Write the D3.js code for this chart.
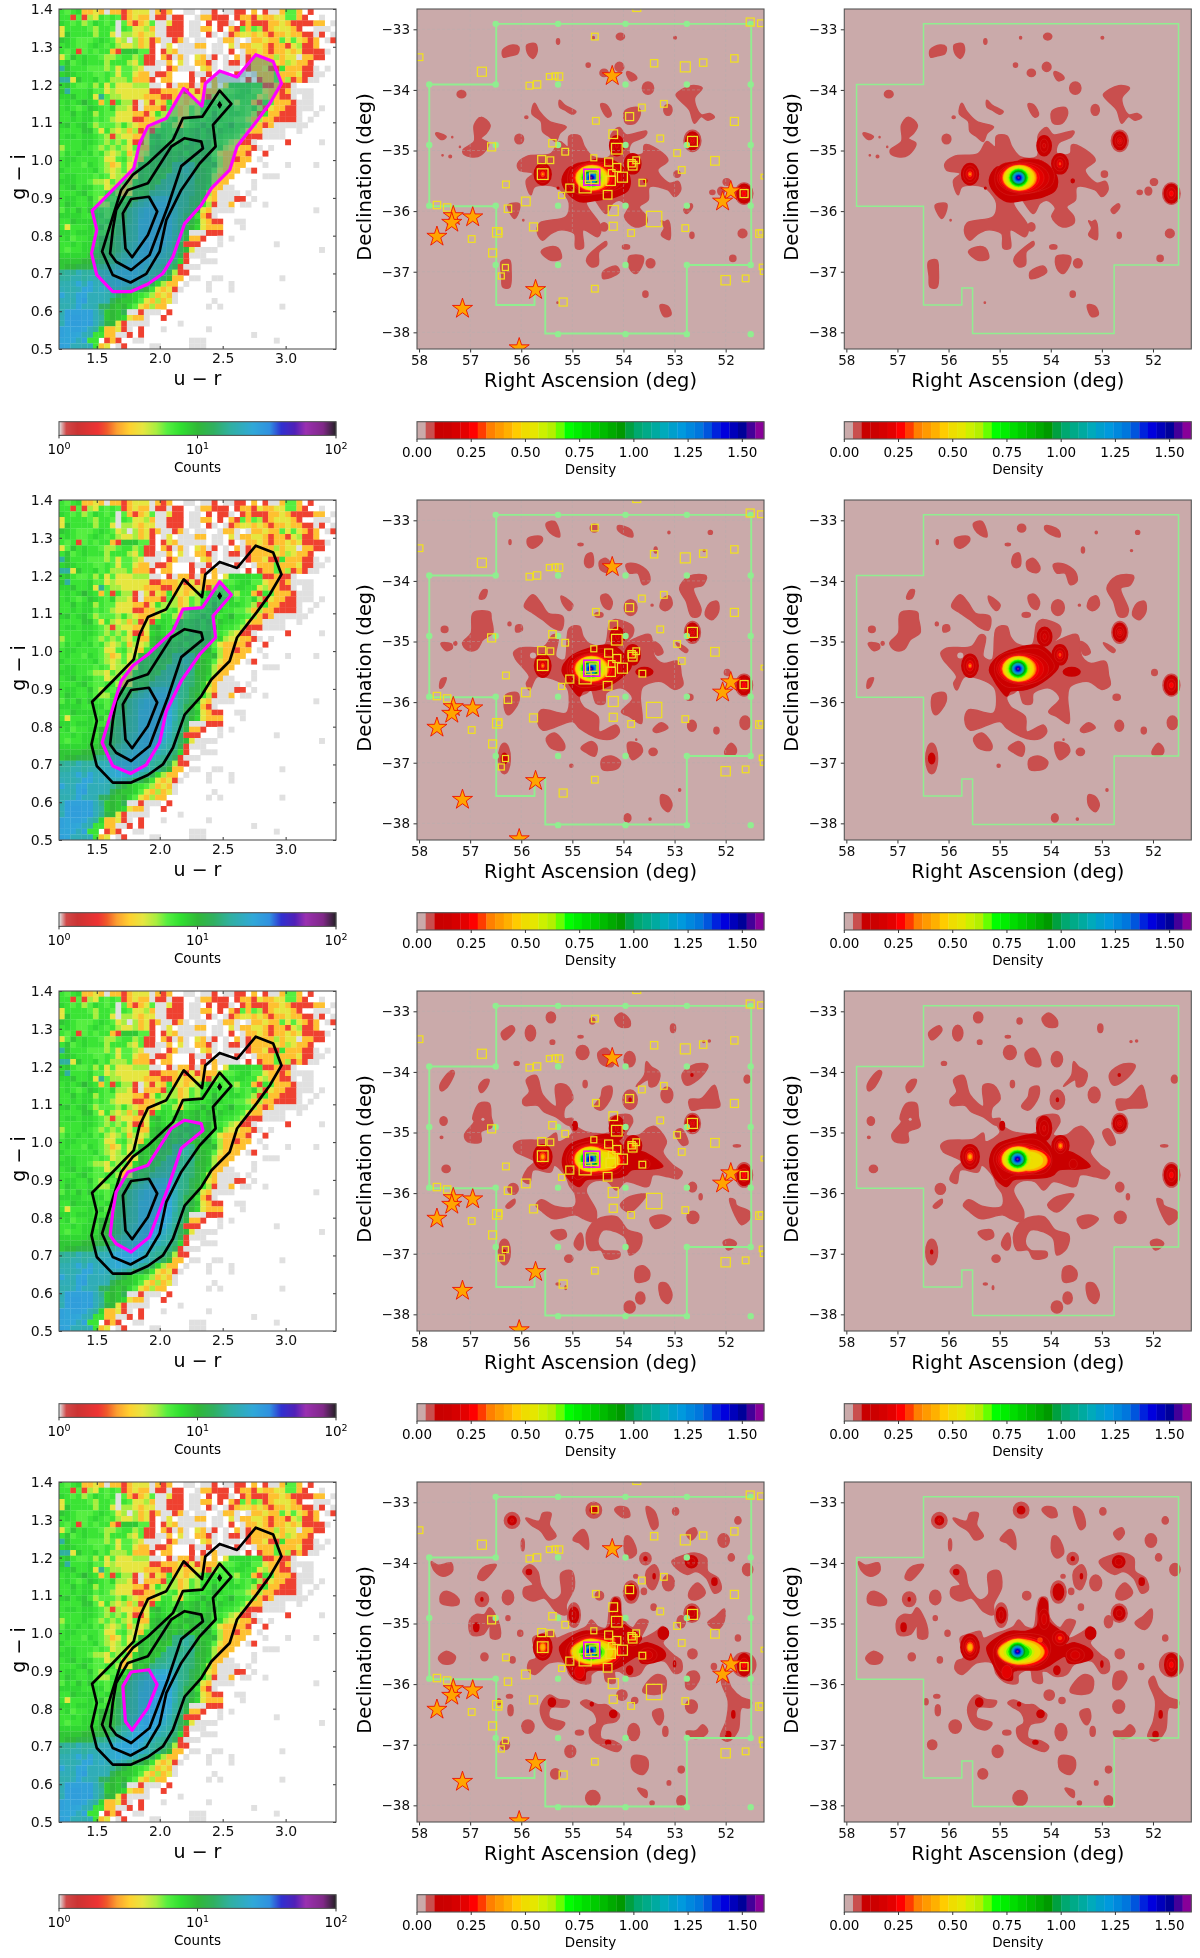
<!DOCTYPE html>
<html>
<head>
<meta charset="utf-8">
<script src="https://cdn.jsdelivr.net/npm/d3@7"></script>
<style>
  body { margin: 0; background: #fff; }
  svg { display: block; font-family: "DejaVu Sans", sans-serif; filter: blur(0.35px); }
</style>
</head>
<body>
<div id="chart"></div>
<script>
// colour-colour histogram, counts per bin written base 36, top row = g-i 1.4
const hessRows = [
"7678334313 3234441323 0011011201 1220302113 663020000",
"7726254767 6234331221 2200133222 0233243344 663200100",
"8767568767 1632346114 2201102022 1023222334 322223301",
"4777765776 1764453112 2201133020 3263652344 432001110",
"4977775774 1554344112 2201102101 2344343233 433221201",
"9876667876 4515342311 2310110013 3101334336 464323012",
"7876678767 5445342014 0111330110 4133443233 245223000",
"7672676773 2999662024 3111110110 2013343233 434222210",
"4697877655 6775622032 1310431201 0312333353 441332200",
"7967877757 7754622113 0410332101 2212333343 543320000",
"h977766656 4665411102 3111043101 1102334227 333221010",
"8987776676 4664331223 0002112011 0210133363 334221100",
"hh49778675 5563332033 0002021311 1102023363 523211000",
"8976675746 4445551102 1332130304 8888772232 210000000",
"9h77786645 4444442233 3424233356 6788664332 311110000",
"8897784g65 5444433322 3433432567 7887745332 210110000",
"7878a87362 7552142437 3434579776 6577327633 321110000",
"7876798768 5542133326 5346577877 8676852433 221110100",
"7797885766 4443324755 5346587a77 8876527332 221001000",
"7787886765 4442233556 7468878a87 7665353322 221010000",
"8978975666 5754333477 53678a8978 a776532311 111100000",
"7777996475 4535242787 6a89a8a798 8764331111 001000000",
"7887887652 5443349a87 9a89a89a87 7652221111 000000000",
"7777887656 5642248987 6a8ba9a776 5422100000 200000100",
"5777876565 6546339a9a 89aa9ba785 4433210100 000000000",
"6878786754 5635459aba 9a8aba9643 3332002000 000000000",
"7887777644 6754379aba 9ba9aba753 3233010000 000000000",
"7877687653 4645a9a9ba ffhga99a53 3330001000 100001000",
"8777778654 5647a9a9a9 fghfaa9643 3301200000 000000000",
"7887776764 5534a99a9g gfggba9533 3000001110 000000000",
"8887765546 5638a9a9fg gggfaa9533 0000100000 000000000",
"7897886645 6359a9affh hgfeba8331 1000100000 000000000",
"7778976677 534a9afghh jhfeb95311 1101000000 000000000",
"7887796576 779afhkmnn kgfcb94311 1220100000 000000000",
"7987786557 89afhkpqqp kgfca75211 3011001000 000000000",
"6879797767 9afhmpqrrq kgeca43111 1000000000 000001000",
"8888778867 9bfhnqrssq kgcb732100 0000000000 000000000",
"7798888787 bdfhpqsssp jfcb943220 0110000000 000000000",
"7477787968 cdghpqsstq jfda843330 0010000000 000000000",
"8878887779 cdghpqssrp hfc1112220 0000000000 000000000",
"7867788aab dfghqrssqn hfb3320010 1000000000 000000000",
"7787887aab dfhjqsssqk gd22200010 0000000010 000000000",
"7677888aab dfhkqsrqmj gda4111100 0000000000 000000100",
"8888899abc fhjnqrqnkh fc21110000 0000000000 000000000",
"9999aabbbe gjlppqnkih e820011100 0000000000 000000000",
"9aabbbffgh knpqqmkhgf d211100000 0000000000 000000000",
"ghgkhhhkkn pqqqnkhgfd 5220000000 0000000000 000000000",
"hhjjhjjkln ppqpnkhfda 3301100110 0000000001 000000000",
"jjkpjqkkmn pnlkhgc853 3010001000 1000000000 000000000",
"kjjkqqkmkk kigdca7434 2100001000 1000000000 000000000",
"qkkqqkkkjg db98765343 1000000000 0000000000 000000000",
"kkjqskkkjc a998643534 1000000100 0000000000 000000000",
"jjkqkkjdda 9a86435330 0000001010 0000000001 000000000",
"jrrrrrkg9a 9c11211102 0000000000 0000000000 000000000",
"krssrrkh9a 9843310020 0000000000 0000000000 000000000",
"jrssrskgba 4211110000 0100000000 0000000000 000000000",
"rqrrqkh833 4210200010 0000001000 0000000000 000000000",
"rqqpkj7733 1120200000 0000000000 0000100000 000000000",
"qqpkq77023 2001100000 0001110000 0000000010 000000000",
"rqkkjk7340 1200001100 0001110000 0000000000 000000000"
];
const hessTicksX = [1.5, 2.0, 2.5, 3.0];
const hessTicksY = [0.5, 0.6, 0.7, 0.8, 0.9, 1.0, 1.1, 1.2, 1.3, 1.4];
const countStops = [1, 1.12, 1.35, 1.9, 2.2, 2.6, 3.2, 4, 5, 6, 7.5, 10, 13, 17, 25, 33, 40, 50, 60, 80, 100];
const countColors = ["#e0e0e0", "#d04848", "#cc3333", "#ee3333", "#f05a2a", "#fca030", "#ffd030", "#e6e640", "#a8ee40", "#55ee40", "#30e030", "#30b838", "#30b060", "#30b0a0", "#30a8d8", "#3090e0", "#3030d0", "#5020b8", "#9a30b0", "#802888", "#202020"];

// contours of the histogram, outer to inner, [u-r, g-i]
const contourA = [[1.463,.866],[1.5,.815],[1.458,.753],[1.5,.696],[1.627,.652],[1.773,.652],[1.906,.672],[2.025,.7],[2.105,.744],[2.198,.832],[2.33,.881],[2.41,.925],[2.556,.974],[2.614,1.036],[2.768,1.102],[2.874,1.15],[2.967,1.203],[2.901,1.261],[2.763,1.279],[2.614,1.22],[2.476,1.236],[2.362,1.203],[2.336,1.143],[2.19,1.19],[2.052,1.111],[1.906,1.09],[1.84,1.044],[1.794,.978],[1.627,.921]];
const contourB = [[1.542,.758],[1.627,.696],[1.768,.676],[1.893,.699],[1.999,.758],[2.052,.841],[2.171,.921],[2.317,.991],[2.444,1.036],[2.423,1.093],[2.569,1.149],[2.476,1.184],[2.338,1.115],[2.184,1.111],[2.105,1.053],[1.906,.991],[1.786,.961],[1.694,.921],[1.627,.85]];
const contourC = [[1.606,.753],[1.654,.731],[1.773,.709],[1.919,.749],[1.985,.807],[2.065,.878],[2.171,.984],[2.343,1.031],[2.33,1.049],[2.198,1.058],[2.092,1.036],[1.906,.939],[1.747,.921],[1.654,.868],[1.627,.815]];
const contourD = [[1.707,.859],[1.728,.766],[1.781,.743],[1.906,.802],[1.98,.864],[1.914,.903],[1.773,.897]];
const contourE = [[2.46,1.146],[2.476,1.155],[2.492,1.146],[2.476,1.137]];
const contours = [contourA, contourB, contourC, contourD];

const raTicks = [58, 57, 56, 55, 54, 53, 52];
const decTicks = [-33, -34, -35, -36, -37, -38];
const densityTicks = [0, 0.25, 0.5, 0.75, 1, 1.25, 1.5];
const densityColors = ["#caaaaa","#c94f4e","#c90000","#cc0000","#d60000","#e40000","#ff0000","#ff3c00","#ff8000","#ff9a00","#ffb000","#ffcc00","#eedd00","#e6e600","#ccf000","#b4f000","#66ff00","#00ff00","#00ee00","#00dd00","#00cc00","#00bb00","#00aa00","#009900","#00a040","#00a870","#00aa88","#00aaa0","#00aabb","#009fcc","#0099dd","#0088dd","#0077dd","#0055dd","#0022dd","#0000dd","#0000bb","#000099","#440099","#880099"];

// survey outline and pointing centres, RA / Dec
const footprint = [[56.49,-32.91],[51.5,-32.91],[51.5,-36.89],[52.76,-36.89],[52.76,-38.02],[55.53,-38.02],[55.53,-37.27],[55.74,-37.27],[55.74,-37.55],[56.49,-37.55],[56.49,-35.92],[57.8,-35.92],[57.8,-33.91],[56.49,-33.91]];
const pointings = [[56.5,-32.91],[55.28,-32.91],[53.96,-32.91],[52.76,-32.91],[51.51,-32.91],[57.8,-33.91],[56.5,-33.91],[55.28,-33.91],[53.96,-33.91],[52.76,-33.91],[51.51,-33.91],[57.8,-34.91],[56.5,-34.91],[55.28,-34.91],[53.96,-34.91],[52.76,-34.91],[51.51,-34.91],[57.8,-35.91],[56.5,-35.91],[55.28,-35.91],[53.96,-35.91],[52.76,-35.91],[51.51,-35.91],[56.5,-36.89],[55.28,-36.89],[53.96,-36.89],[52.76,-36.89],[51.51,-36.89],[55.28,-38.03],[53.96,-38.03],[52.76,-38.03],[51.51,-38.03]];
// known members: RA, Dec, marker weight
const members = [[57.99,-33.46,20],[56.77,-33.7,27],[54.56,-33.12,20],[51.52,-32.88,24],[51.31,-32.9,20],[53.74,-32.64,24],[53.4,-33.56,22],[52.79,-33.62,30],[52.44,-33.55,22],[51.83,-33.48,22],[55.84,-33.93,20],[55.69,-33.91,22],[55.45,-33.78,18],[55.34,-33.77,18],[55.26,-33.78,22],[53.21,-34.23,20],[53.64,-34.29,20],[53.88,-34.44,24],[54.54,-34.51,20],[51.83,-34.52,24],[54.2,-34.73,26],[53.28,-34.8,20],[55.39,-34.88,22],[56.58,-34.94,24],[52.65,-34.85,30],[54.13,-34.97,32],[55.14,-35.02,20],[52.95,-35.04,20],[54.58,-35.12,18],[55.6,-35.15,24],[55.43,-35.16,20],[54.29,-35.19,24],[54.13,-35.28,24],[52.21,-35.17,26],[53.75,-35.16,20],[53.84,-35.21,22],[53.82,-35.25,26],[52.86,-35.32,20],[54.23,-35.37,20],[55.58,-35.39,32],[54.02,-35.44,30],[54.25,-35.5,28],[54.62,-35.44,38],[54.59,-35.43,22],[54.75,-35.6,36],[55.05,-35.62,24],[53.63,-35.53,20],[56.3,-35.56,20],[55.21,-35.74,18],[54.31,-35.73,26],[51.64,-35.71,24],[55.91,-35.84,26],[57.65,-35.9,22],[57.45,-35.94,22],[54.2,-35.99,30],[56.26,-35.96,22],[53.4,-36.13,46],[55.76,-36.26,24],[54.2,-36.25,24],[52.79,-36.28,20],[53.85,-36.36,20],[56.47,-36.35,28],[56.43,-36.34,16],[51.34,-36.37,22],[51.31,-36.35,16],[56.97,-36.46,20],[56.56,-36.69,24],[56.31,-36.93,18],[56.39,-37.07,18],[54.56,-37.28,20],[51.29,-36.92,16],[51.27,-37,16],[52,-37.14,28],[51.61,-37.11,20],[55.18,-37.5,24],[51.26,-35.43,14]];
const brightGalaxy = [54.62, -35.44];
const stars = [[54.22,-33.77],[51.9,-35.67],[52.06,-35.84],[56.95,-36.1],[57.33,-36.08],[57.36,-36.19],[57.65,-36.42],[55.72,-37.3],[57.15,-37.61],[56.04,-38.26]];

// central peak, shared shape: density, RA half-width, Dec half-height, RA shift
const coreRings = [[.18,.51,.26,-.09],[.22,.44,.24,-.06],[.26,.38,.225,-.03],[.3,.345,.215,-.02],[.34,.325,.21,-.02],[.38,.32,.205,-.02],[.42,.31,.2,-.01],[.46,.3,.2,-.01],[.5,.28,.19,-.01],[.54,.26,.175,0],[.58,.235,.165,0],[.62,.21,.155,0],[.66,.19,.15,0],[.7,.175,.14,0],[.78,.165,.13,0],[.86,.15,.12,0],[.94,.137,.11,0],[1.02,.125,.1,0],[1.1,.11,.09,0],[1.18,.1,.08,0],[1.26,.085,.066,0],[1.34,.07,.055,0],[1.42,.05,.04,0],[1.5,.032,.027,0],[1.56,.02,.016,0]];
const coreCenters = [[54.63,-35.45],[54.64,-35.45],[54.65,-35.44],[54.65,-35.46]];

// density maps: [density, ra, dec, rRa, rDec] is an oval, longer rows are outlines ra,dec,ra,dec...
const density1 = [
[.06,56.36,-33.34,56.17,-33.26,56.05,-33.29,56.07,-33.4,56.23,-33.44,56.35,-33.46],
[.06,55.89,-33.26,55.72,-33.24,55.69,-33.37,55.77,-33.48,55.87,-33.4],
[.06,55.28,-33.2,.03,.045],[.06,54.59,-33.14,.02,.02],[.06,54.06,-33.12,.08,.055],[.06,52.99,-33.14,.025,.02],
[.06,54.69,-33.59,.04,.035],[.06,54.38,-33.72,.08,.06],[.06,54.08,-33.62,.085,.075],
[.06,53.93,-33.7,53.78,-33.75,53.74,-33.81,53.85,-33.85,53.92,-33.78],
[.06,53.52,-33.97,.11,.1],[.06,57.17,-34.07,.085,.06],
[.06,52.97,-34.08,52.67,-33.93,52.46,-33.97,52.61,-34.14,52.48,-34.41,52.31,-34.39,52.22,-34.45,52.35,-34.5,52.48,-34.44,52.61,-34.55,52.71,-34.33,52.87,-34.19],
[.06,53.13,-34.33,.08,.09],
[.06,54.44,-34.23,54.33,-34.25,54.24,-34.41,54.31,-34.45,54.4,-34.36],
[.06,53.98,-34.36,53.72,-34.29,53.67,-34.39,53.78,-34.55,53.95,-34.55],
[.06,55.25,-34.17,55.15,-34.25,54.93,-34.36,55,-34.4,55.15,-34.33,55.25,-34.28],
[.06,55.74,-34.22,55.64,-34.36,55.45,-34.52,55.12,-34.61,55.25,-34.72,55.32,-34.85,55.45,-34.77,55.58,-34.69,55.61,-34.52,55.79,-34.39],
[.06,55.9,-34.45,.03,.02],
[.06,56.92,-34.58,56.79,-34.45,56.61,-34.58,56.69,-34.72,56.79,-34.8,56.64,-34.88,56.69,-34.99,56.85,-35.1,57.11,-35.07,57.14,-34.99,56.92,-34.85],
[.06,57.67,-34.71,57.47,-34.77,57.54,-34.82,57.65,-34.76],
[.06,56.04,-34.81,.085,.08],[.06,57.35,-34.78,.01,.01],[.06,57.54,-35.08,.012,.01],[.06,57.39,-35.1,.025,.02],[.06,57.2,-34.94,.01,.01],
[.06,56.07,-35.22,55.9,-35.1,55.42,-35.05,55.25,-34.85,55.09,-34.94,55.06,-34.76,54.86,-34.76,54.76,-34.94,54.6,-35.1,54.27,-35.1,54.24,-34.74,54.08,-34.62,53.95,-34.74,53.55,-34.68,53.59,-34.77,53.85,-34.88,53.88,-35.05,53.62,-35.05,53.59,-34.91,53.42,-34.94,53.13,-35.16,53.33,-35.32,53.1,-35.54,52.93,-35.51,52.88,-35.65,53,-35.76,53.13,-35.65,53.49,-35.6,53.52,-35.82,53.69,-35.93,53.55,-36.09,53.55,-36.2,53.78,-36.26,53.98,-36.09,53.91,-35.95,54.08,-35.82,54.21,-35.87,54.34,-36.04,54.66,-35.71,54.73,-35.87,54.44,-36.26,54.5,-36.42,54.79,-36.31,54.79,-36.61,54.93,-36.61,54.96,-36.37,55.25,-36.31,55.45,-36.39,55.58,-36.48,55.68,-36.37,55.64,-36.2,55.12,-36.09,55.06,-35.87,55.12,-35.76,55.32,-35.6,55.74,-35.6,55.81,-35.73,55.87,-35.65,55.9,-35.49,55.77,-35.38,56.04,-35.32],
[.06,52.95,-35.39,.06,.05],[.06,51.98,-35.52,.07,.055],[.06,52.09,-35.67,.065,.065],[.06,52.26,-35.69,.05,.035],
[.06,52.82,-35.98,52.67,-35.88,52.65,-35.93,52.77,-36.04],
[.06,56.26,-35.9,56.04,-35.88,56.04,-35.98,56.13,-36.12,56.23,-36.01],
[.06,52.66,-36.4,.04,.05],[.06,51.67,-36.37,.085,.07],
[.06,53.26,-36.16,53.2,-36.18,53.13,-36.15,53.08,-36.37,53.1,-36.47,53.26,-36.39,53.2,-36.28],
[.06,51.86,-36.78,.06,.05],[.06,53.47,-36.86,.085,.075],[.06,53.95,-36.59,.07,.035],
[.06,55.61,-36.67,55.45,-36.59,55.28,-36.61,55.22,-36.78,55.42,-36.81],
[.06,54.7,-36.75,54.53,-36.61,54.34,-36.5,54.33,-36.56,54.48,-36.67,54.5,-36.89,54.63,-36.92,54.72,-36.83],
[.06,53.89,-36.75,53.62,-36.75,53.62,-36.86,53.76,-37.03,53.88,-36.94],
[.06,54.4,-37,54.14,-36.91,54.08,-37,54.31,-37.11,54.4,-37.11],
[.06,56.39,-36.83,56.23,-36.81,56.2,-36.97,56.23,-37.26,56.36,-37.25,56.38,-37.08],
[.06,53.57,-37.37,.05,.05],
[.06,53.28,-37.55,53.13,-37.57,53.07,-37.71,53.2,-37.74,53.26,-37.66],
[.06,55.29,-37.51,.012,.012],[.06,54.38,-36.26,.07,.07],
[.1,55.2,-35.48,55.06,-35.28,54.73,-35.24,54.6,-35.16,54.24,-35.16,54.01,-35.28,53.88,-35.44,53.91,-35.65,54.14,-35.76,54.53,-35.82,54.86,-35.84,55.12,-35.67],
[.14,55.09,-35.4,54.99,-35.24,54.66,-35.17,54.24,-35.15,54.01,-35.26,53.93,-35.4,53.98,-35.57,54.18,-35.66,54.53,-35.72,54.86,-35.73,55.06,-35.6],
[.1,55.58,-35.39,.165,.175],[.14,55.58,-35.39,.13,.14],[.22,55.58,-35.39,.08,.09],[.3,55.58,-35.39,.04,.045],[.38,55.58,-35.39,.015,.015],
[.1,54.13,-34.92,.14,.165],[.14,54.13,-34.92,.08,.11],[.18,54.13,-34.92,.03,.04],
[.1,53.82,-35.22,.16,.165],[.14,53.82,-35.22,.12,.12],[.22,53.82,-35.22,.06,.07],[.3,53.82,-35.22,.02,.025],
[.06,52.65,-34.84,.165,.175],[.1,52.65,-34.84,.13,.145],[.14,52.65,-34.84,.09,.1],[.18,52.65,-34.84,.05,.055],[.24,52.65,-34.84,.025,.025],
[.06,51.64,-35.71,.17,.175],[.1,51.64,-35.71,.14,.155],[.18,51.64,-35.71,.09,.1],[.26,51.64,-35.71,.04,.045],
[.1,53.57,-35.5,.03,.03],[.1,55.28,-35.62,.015,.015],[.06,55.96,-36.15,.012,.012]
];
const density2 = [
[.06,55.51,-33.05,55.35,-33.02,55.25,-33.27,55.38,-33.24,55.48,-33.16],
[.06,54.57,-33.13,.08,.065],
[.06,54.11,-33.09,53.85,-33.16,53.82,-33.27,53.98,-33.24,54.11,-33.16],
[.06,55.87,-33.3,55.61,-33.27,55.59,-33.34,55.77,-33.46,55.87,-33.41],
[.06,56.22,-33.36,.02,.04],[.06,54.84,-33.4,.05,.02],[.06,53.37,-33.49,.03,.05],[.06,53.11,-33.2,.02,.02],[.06,52.3,-33.2,.04,.03],[.06,52.42,-33.5,.02,.015],
[.06,54.72,-33.57,54.62,-33.54,54.6,-33.75,54.69,-33.78,54.76,-33.71],
[.06,54.47,-33.68,54.34,-33.63,54.21,-33.79,54.27,-33.86,54.44,-33.82],
[.06,53.95,-33.73,53.75,-33.72,53.52,-33.85,53.49,-34.01,53.62,-34.06,53.72,-33.87,53.88,-33.87],
[.06,52.9,-34.12,52.71,-33.92,52.38,-33.92,52.45,-34.07,52.63,-34.12,52.48,-34.48,52.54,-34.59,52.67,-34.58,52.77,-34.34],
[.06,52.31,-34.37,52.16,-34.34,52.14,-34.51,52.27,-34.64,52.4,-34.56],
[.06,53.23,-34.29,53.1,-34.25,53.05,-34.4,53.17,-34.49,53.28,-34.44],
[.06,53.44,-34.4,.02,.015],[.06,53.86,-34.44,.125,.13],
[.06,54.44,-34.25,54.33,-34.22,54.22,-34.34,54.27,-34.47,54.39,-34.42],
[.06,54.48,-34.56,.08,.04],
[.06,55.22,-34.25,55.12,-34.29,54.99,-34.4,55.06,-34.49,55.19,-34.37],
[.06,55.77,-34.23,55.61,-34.37,55.48,-34.53,55.19,-34.59,55.22,-34.81,55.38,-34.77,55.58,-34.64,55.77,-34.53,55.94,-34.42],
[.06,56.75,-34.15,56.67,-34.15,56.72,-34.29,56.82,-34.29],
[.06,56.94,-34.53,56.61,-34.52,56.59,-34.62,56.56,-34.86,56.75,-34.97,56.87,-35.13,57.05,-35.14,57.15,-35.03,56.98,-34.86],
[.06,57.5,-34.8,.065,.05],
[.06,57.57,-35.03,57.37,-35.04,57.35,-35.11,57.47,-35.15],
[.06,57.29,-35.03,.03,.03],
[.06,56.1,-34.74,56,-34.73,55.98,-34.81,56.1,-34.84],[.06,56.23,-34.71,.03,.03],
[.06,57.57,-35.63,57.47,-35.6,57.54,-35.75,57.59,-35.77],
[.06,56.15,-35.19,56.04,-35.11,55.55,-35.08,55.38,-34.89,55.28,-34.92,55.32,-35.25,55.15,-35.3,55.06,-34.78,54.86,-34.75,54.79,-34.92,54.66,-35.04,54.37,-35.06,54.27,-34.7,54.18,-34.64,53.82,-34.75,53.82,-34.89,53.98,-35.03,53.69,-34.92,53.48,-34.89,53.39,-35.25,53.23,-35.36,52.93,-35.33,52.87,-35.55,52.84,-35.72,53,-35.79,53.26,-35.66,53.62,-35.74,53.67,-35.91,53.65,-36.35,53.88,-36.24,54.04,-36.16,53.82,-35.94,54.01,-35.77,54.34,-35.85,54.37,-36.02,54.53,-36.02,54.63,-35.8,54.73,-35.85,54.86,-35.91,54.79,-36.07,54.5,-36.24,54.47,-36.49,54.14,-36.38,54.08,-36.49,54.21,-36.6,54.47,-36.6,54.86,-36.43,54.99,-36.32,55.58,-36.46,55.68,-36.3,55.61,-36.13,55.12,-36.18,55.06,-35.91,55.12,-35.74,55.68,-35.58,55.84,-35.8,55.9,-35.69,55.84,-35.58,56.1,-35.3],
[.06,53.42,-35,53.29,-35.06,53.23,-35.19,53.35,-35.22],
[.06,52.97,-35.02,52.74,-35.14,52.77,-35.18,52.9,-35.11],
[.06,51.97,-35.51,.055,.05],[.06,52.71,-35.92,.07,.05],[.06,52.66,-36.39,.085,.09],[.06,52.18,-36.47,.05,.055],[.06,51.62,-36.34,.1,.11],
[.06,52.02,-36.82,51.89,-36.68,51.79,-36.78,51.83,-36.87,52,-36.87],
[.06,53.42,-36.46,53.26,-36.34,53.13,-36.42,53.36,-36.5],
[.06,53.42,-36.82,.08,.06],
[.06,53.91,-36.67,53.68,-36.7,53.63,-36.82,53.82,-36.95,53.89,-36.87],
[.06,54.42,-36.94,54.24,-36.89,54.06,-36.98,54.11,-37.09,54.41,-37.11],
[.06,54.83,-36.76,54.63,-36.65,54.52,-36.73,54.56,-36.89,54.73,-36.83],
[.06,55.51,-36.6,55.35,-36.51,55.15,-36.71,55.18,-36.79,55.41,-36.76],
[.06,56.3,-35.88,56.07,-35.85,56.05,-35.99,56.25,-36.21,56.32,-36.13],
[.06,55.02,-37.05,.03,.025],
[.06,53.26,-37.53,53.13,-37.56,53.05,-37.7,53.13,-37.81,53.26,-37.7],
[.06,53.92,-37.91,.065,.07],[.06,52.9,-37.45,.02,.02],[.06,53.48,-37.93,.02,.02],[.06,53.75,-36.62,.01,.01],
[.06,56.33,-36.93,.115,.25],[.1,56.33,-36.93,.06,.085],
[.1,55.2,-35.47,55.06,-35.27,54.66,-35.11,54.21,-35.07,53.95,-35.25,53.85,-35.41,54.08,-35.62,54.47,-35.79,54.79,-35.82,54.86,-35.9,54.99,-35.79,55.12,-35.62],
[.14,55.1,-35.4,55,-35.24,54.66,-35.15,54.24,-35.12,54.01,-35.27,53.93,-35.42,54.08,-35.57,54.47,-35.72,54.86,-35.75,55.06,-35.6],
[.1,53.59,-35.5,.165,.07],
[.1,55.58,-35.4,.16,.19],[.14,55.58,-35.4,.12,.15],[.22,55.58,-35.4,.07,.09],[.3,55.58,-35.4,.035,.04],[.38,55.58,-35.4,.015,.015],
[.1,54.12,-34.92,.14,.155],[.14,54.12,-34.92,.09,.11],[.18,54.12,-34.92,.035,.05],
[.1,53.82,-35.22,.15,.165],[.14,53.82,-35.22,.11,.12],[.22,53.82,-35.22,.06,.07],[.3,53.82,-35.22,.025,.03],
[.06,52.65,-34.85,.155,.18],[.1,52.65,-34.85,.125,.15],[.14,52.65,-34.85,.085,.1],[.18,52.65,-34.85,.05,.055],[.24,52.65,-34.85,.025,.025],
[.06,51.64,-35.72,.165,.18],[.1,51.64,-35.72,.135,.155],[.18,51.64,-35.72,.085,.1],[.26,51.64,-35.72,.04,.045]
];
const density3 = [
[.06,55.42,-33.1,.09,.09],[.06,54.61,-33.16,.05,.05],
[.06,54.17,-33.12,54.04,-33.03,53.88,-33.14,53.88,-33.25,54.08,-33.25],
[.06,53.03,-33.28,.05,.07],
[.06,56.39,-33.36,56.18,-33.24,56.13,-33.31,56.33,-33.47],
[.06,55.82,-33.36,.1,.13],[.06,55.39,-33.51,.045,.035],[.06,54.84,-33.42,.05,.02],[.06,52.43,-33.5,.02,.015],[.06,52.32,-33.49,.02,.015],
[.06,54.8,-33.68,.125,.115],
[.06,54.5,-33.69,54.34,-33.61,54.2,-33.8,54.22,-33.91,54.44,-33.86],
[.06,53.88,-33.79,.11,.125],[.06,56.09,-33.86,.05,.03],
[.06,53.55,-33.83,53.46,-33.91,53.29,-34.02,53.36,-34.22,53.49,-34.24,53.52,-34.13,53.75,-34.24,53.59,-34.05],
[.06,52.84,-34.02,52.58,-33.87,52.35,-33.89,52.48,-34.08,52.75,-34.22,52.83,-34.16],
[.1,52.66,-34.05,.02,.02],[.06,51.58,-34.12,.06,.065],
[.06,57.59,-34.22,57.37,-33.98,57.31,-34,57.47,-34.27,57.57,-34.31],
[.06,56.83,-34.24,56.72,-34.13,56.63,-34.13,56.69,-34.27,56.79,-34.34],
[.06,54.75,-34.2,.04,.06],
[.06,54.4,-34.27,54.24,-34.24,54.24,-34.41,54.44,-34.63,54.57,-34.57,54.44,-34.41],
[.06,53.87,-34.46,.14,.16],[.1,53.87,-34.46,.02,.03],[.06,53.15,-34.38,.115,.13],
[.06,55.9,-34.13,55.71,-34.06,55.58,-34.38,55.32,-34.57,55.32,-34.22,55.12,-34.22,54.99,-34.44,55.15,-34.6,55.15,-34.77,54.99,-34.77,55.06,-34.88,55.32,-34.74,55.55,-34.66,55.68,-34.55,55.94,-34.55,55.97,-34.46,55.84,-34.33],
[.06,56.95,-34.77,56.82,-34.52,56.63,-34.52,56.59,-34.74,56.56,-34.9,56.79,-34.99,56.79,-35.15,57.05,-35.15,57.11,-35.04,56.92,-34.82],
[.06,57.52,-34.81,.07,.07],[.06,57.56,-35.08,.025,.02],[.06,57.47,-35.6,.08,.06],
[.06,52.71,-34.46,52.48,-34.44,52.22,-34.22,52.14,-34.44,52.12,-34.57,52.48,-34.6,52.67,-34.63],
[.06,52.65,-34.85,.155,.165],[.1,52.65,-34.85,.125,.135],[.14,52.65,-34.85,.085,.095],[.18,52.65,-34.85,.05,.05],[.24,52.65,-34.85,.025,.025],
[.06,56.15,-35.21,56.04,-35.14,55.51,-35.11,55.32,-35.01,55.28,-35.15,55.12,-35.1,54.99,-34.99,55.09,-34.82,54.73,-34.99,54.27,-34.99,54.27,-34.77,53.88,-34.71,53.82,-34.82,53.95,-35.04,53.69,-35.04,53.52,-34.93,53.39,-34.9,53.16,-35.15,53.23,-35.32,53.03,-35.54,52.85,-35.65,52.93,-35.76,53.13,-35.73,53.42,-35.7,53.52,-35.89,53.95,-35.81,54.14,-35.95,54.31,-35.81,54.6,-35.81,54.73,-35.95,54.53,-36.31,54.57,-36.47,54.79,-36.42,54.93,-36.36,55.38,-36.42,55.58,-36.31,55.71,-36.2,55.61,-36.11,55.32,-36.22,54.96,-36.22,54.94,-36.03,55.06,-35.87,55.12,-35.73,55.35,-35.54,55.42,-35.65,55.77,-35.62,55.84,-35.84,55.97,-35.78,55.87,-35.59,55.74,-35.48,55.9,-35.4,56.1,-35.32],
[.06,52.98,-34.99,52.87,-34.94,52.74,-35.18,52.84,-35.21],
[.06,51.78,-35.22,.07,.02],[.06,52.65,-35.9,.08,.08],[.06,52.49,-36.06,.03,.05],[.06,52.64,-36.4,.115,.1],[.06,56.16,-35.93,.1,.09],
[.06,56.3,-36.22,56.13,-36.1,56.13,-36.17,56.26,-36.25],
[.06,54.06,-36.2,53.88,-36.06,53.55,-36.02,53.62,-36.12,53.88,-36.31],
[.06,53.48,-36.42,53.26,-36.36,53.07,-36.42,53.23,-36.55,53.39,-36.58],
[.06,51.92,-36.09,51.82,-36.12,51.79,-36.2,51.53,-36.31,51.53,-36.42,51.69,-36.52,51.82,-36.36],
[.06,52.05,-36.81,51.92,-36.76,51.79,-36.83,51.95,-36.94],
[.06,55.42,-36.65,55.16,-36.61,55.12,-36.72,55.28,-36.77],
[.06,54.93,-36.75,54.83,-36.66,54.79,-36.86,54.86,-36.94,54.96,-36.86],
[.06,54.7,-36.61,54.53,-36.44,54.14,-36.39,53.91,-36.61,53.65,-36.69,53.69,-36.91,53.88,-37.02,53.95,-36.75,54.14,-36.64,54.4,-36.61,54.5,-36.8,54.4,-36.94,54.08,-36.97,54.08,-37.05,54.34,-37.08,54.44,-36.94,54.66,-36.94,54.73,-36.75],
[.06,55.07,-37.08,.08,.06],
[.06,53.75,-37.24,53.62,-37.2,53.49,-37.3,53.52,-37.43,53.75,-37.46],
[.06,53.29,-37.49,53.16,-37.49,53.05,-37.68,53.13,-37.82,53.26,-37.74],
[.06,53.67,-37.73,.09,.1],[.06,53.88,-37.88,.11,.1],[.06,55.28,-37.5,.04,.015],[.06,55.13,-37.56,.015,.03],
[.06,56.33,-36.97,.115,.21],[.1,56.33,-36.97,.02,.03],
[.1,54.95,-34.89,.045,.07],
[.1,54.13,-34.93,.145,.2],[.14,54.13,-34.93,.09,.13],[.18,54.13,-34.93,.03,.05],
[.1,55.19,-35.43,55.06,-35.21,54.73,-35.1,54.27,-35.04,54.01,-35.23,53.95,-35.32,53.62,-35.32,53.23,-35.56,53.42,-35.6,53.85,-35.62,53.95,-35.7,54.08,-35.74,54.47,-35.76,54.73,-35.78,54.86,-35.89,55.02,-35.81,55.15,-35.65],
[.14,55.12,-35.42,55,-35.24,54.66,-35.14,54.27,-35.12,54.03,-35.3,53.98,-35.5,54.1,-35.66,54.47,-35.7,54.75,-35.72,54.9,-35.78,55.05,-35.62],
[.14,53.56,-35.52,.08,.08],
[.26,54.42,-35.46,.42,.2],[.34,54.42,-35.46,.36,.18],[.42,54.42,-35.46,.34,.17],[.5,54.45,-35.46,.3,.15],
[.1,55.58,-35.4,.18,.2],[.14,55.58,-35.4,.14,.16],[.22,55.58,-35.4,.09,.11],[.3,55.58,-35.4,.06,.07],[.38,55.58,-35.4,.035,.04],[.44,55.58,-35.4,.015,.015],
[.1,53.81,-35.22,.165,.165],[.14,53.81,-35.22,.12,.13],[.22,53.81,-35.22,.08,.08],[.3,53.81,-35.22,.05,.055],[.38,53.81,-35.22,.025,.03],
[.06,51.64,-35.7,.165,.2],[.1,51.64,-35.7,.135,.17],[.18,51.64,-35.7,.09,.11],[.26,51.64,-35.7,.04,.05]
];
const density4 = [
[.06,56.18,-33.3,.15,.13],[.1,56.18,-33.3,.08,.07],[.18,56.18,-33.3,.03,.03],
[.06,55.91,-33.26,55.65,-33.31,55.58,-33.18,55.42,-33.18,55.45,-33.37,55.32,-33.56,55.48,-33.62,55.61,-33.48,55.81,-33.37],
[.06,54.58,-33.13,.15,.13],[.1,54.58,-33.13,.07,.06],
[.06,54.08,-33.07,53.92,-33.1,53.88,-33.23,54.01,-33.25,54.17,-33.12],
[.06,53.55,-33.07,53.39,-33.15,53.33,-33.4,53.42,-33.45,53.52,-33.26],
[.06,52.98,-33.15,.06,.06],[.06,51.76,-33.3,.06,.06],
[.06,52.77,-33.51,52.61,-33.42,52.56,-33.51,52.67,-33.62],
[.06,52.04,-33.63,.11,.11],[.06,51.89,-33.91,.06,.06],
[.06,54.99,-33.62,54.79,-33.45,54.7,-33.56,54.7,-33.78,54.86,-33.67],
[.06,55.97,-33.7,.03,.1],
[.06,53.95,-33.56,53.85,-33.59,53.75,-33.84,53.88,-33.92,53.98,-33.81],
[.06,53.57,-33.93,.11,.1],[.1,53.57,-33.93,.03,.03],
[.06,53.05,-33.97,52.77,-33.86,52.58,-33.84,52.38,-33.92,52.35,-34.14,52.15,-34.25,52.09,-34.44,52.22,-34.5,52.38,-34.25,52.58,-34.14,52.75,-34.19,53,-34.06],
[.1,52.67,-33.98,.12,.1],[.14,52.67,-33.98,.07,.06],[.1,52.22,-34.31,.05,.06],
[.06,51.57,-34.11,.1,.1],
[.06,57.76,-33.98,57.63,-34.04,57.37,-34,57.35,-34.14,57.53,-34.22,57.69,-34.14],
[.06,56.85,-34.25,56.75,-34.08,56.49,-34.03,56.59,-34.17,56.75,-34.29],
[.06,53.55,-34.14,53.39,-34.03,53.3,-34.19,53.42,-34.44,53.52,-34.39],[.1,53.4,-34.22,.02,.04],
[.06,53.12,-34.33,.115,.13],[.06,53.76,-34.22,.04,.03],
[.06,55.97,-34.14,55.84,-34.03,55.68,-34.14,55.61,-34.39,55.38,-34.61,55.22,-34.52,55.22,-34.17,55.02,-34.13,54.96,-34.39,55.12,-34.69,55.12,-34.85,55.32,-34.8,55.55,-34.58,55.77,-34.63,55.95,-34.55,55.94,-34.41,55.77,-34.36],
[.1,55.85,-34.15,.05,.04],
[.06,53.85,-34.48,.15,.18],[.1,53.85,-34.48,.1,.13],[.06,53.6,-34.47,.05,.05],[.06,54.47,-34.54,.08,.07],[.06,56.26,-34.57,.11,.12],
[.06,56.77,-34.6,.13,.12],[.1,56.77,-34.6,.02,.03],
[.06,57.57,-34.52,57.44,-34.47,57.22,-34.6,57.24,-34.69,57.57,-34.66],
[.06,52.71,-34.47,52.55,-34.33,52.4,-34.5,52.58,-34.61,52.71,-34.58],
[.06,53.41,-34.73,.05,.05],
[.06,54.97,-34.86,.125,.2],[.1,54.97,-34.86,.09,.13],[.14,54.97,-34.86,.04,.07],
[.06,52.66,-34.83,.155,.15],[.1,52.66,-34.83,.11,.11],[.14,52.66,-34.83,.06,.06],
[.06,52.87,-34.97,.08,.1],
[.06,52.35,-34.99,52.19,-34.88,52.03,-34.76,52.03,-34.96,52.16,-35.1],
[.06,57.01,-34.95,56.88,-34.85,56.72,-34.85,56.62,-34.74,56.43,-35.02,56.43,-35.24,56.59,-35.24,56.62,-35.04,56.75,-35.18,56.98,-35.18],
[.1,56.88,-35.06,.05,.07],
[.06,56.26,-34.91,.04,.04],[.06,56.02,-35.16,.05,.05],
[.06,57.62,-35.57,57.48,-35.46,57.29,-35.54,57.34,-35.65,57.54,-35.66],
[.06,56.72,-35.55,.07,.065],[.06,56.17,-35.6,.05,.05],[.06,51.76,-35.24,.05,.05],[.06,52.65,-35.5,.09,.08],[.06,52.23,-35.71,.05,.05],
[.06,55.77,-35.24,55.58,-35.17,55.38,-35.13,55.32,-35.24,55.12,-35.18,54.73,-35.05,54.63,-34.94,54.5,-35.05,54.34,-35.07,54.27,-34.74,54.21,-34.58,54.08,-34.58,54.02,-34.91,53.82,-35.07,53.69,-34.94,53.52,-34.96,53.65,-35.24,53.36,-35.13,53.23,-35.05,53.13,-35.18,53.23,-35.32,53.03,-35.51,52.87,-35.62,52.87,-35.79,53,-35.82,53.2,-35.62,53.55,-35.68,53.69,-35.84,53.91,-35.87,54.08,-35.79,54.17,-35.79,54.17,-35.98,54.34,-35.95,54.4,-35.76,54.63,-35.84,54.65,-35.98,54.86,-35.98,55.06,-35.84,55.15,-35.65,55.45,-35.65,55.74,-35.84,55.87,-35.76,55.84,-35.62,55.71,-35.57,55.74,-35.4],
[.06,52.74,-35.82,52.58,-35.79,52.51,-35.9,52.67,-36.09,52.77,-36.06],
[.06,53.46,-35.9,53.33,-35.84,53.18,-35.9,53.2,-36.12,53.39,-36.17,53.62,-36.12],
[.06,54.03,-36.18,.1,.085],[.06,53.78,-36.27,.06,.05],[.06,52.67,-36.37,.115,.11],
[.06,53.42,-36.45,53.26,-36.41,53.22,-36.56,53.29,-36.67,53.39,-36.59],
[.06,53.18,-36.78,.05,.08],[.06,53.8,-36.79,.115,.14],
[.06,54.84,-36.31,54.73,-36.26,54.5,-36.34,54.34,-36.34,54.21,-36.42,54.08,-36.5,54.14,-36.61,54.4,-36.67,54.44,-36.89,54.18,-36.94,54.04,-37.03,54.11,-37.11,54.4,-37.03,54.63,-36.89,54.66,-36.72,54.53,-36.64,54.57,-36.48,54.76,-36.37],
[.1,54.2,-36.49,.07,.06],[.1,54.62,-36.33,.03,.03],[.1,54.3,-36.96,.05,.03],
[.06,55.61,-36.34,55.45,-36.18,55.28,-36.25,55.06,-36.28,55.12,-36.37,55.42,-36.39,55.45,-36.55,55.15,-36.64,55.25,-36.75,55.48,-36.7,55.61,-36.52],
[.1,55.4,-36.3,.07,.07],
[.06,55.87,-36.7,.12,.11],[.06,56.21,-36.43,.05,.09],[.06,56.23,-36.2,.06,.03],[.06,56.44,-36.29,.04,.05],[.06,54.86,-36.8,.08,.04],
[.06,52.77,-36.78,52.58,-36.77,52.45,-36.67,52.35,-36.78,52.51,-36.89,52.74,-36.86],
[.06,52.08,-35.95,51.99,-35.87,51.89,-36.06,51.69,-36.22,51.5,-36.28,51.53,-36.39,51.69,-36.39,51.76,-36.77,51.95,-36.94,52.1,-36.87,51.99,-36.61,51.95,-36.28],
[.1,51.95,-36.83,.05,.05],[.1,51.85,-36.5,.03,.06],
[.06,56.32,-37,.09,.08],[.06,55.04,-37.11,.105,.1],[.06,55.33,-37.48,.095,.085],
[.06,53.82,-37.19,53.55,-37.22,53.52,-37.38,53.62,-37.49,53.82,-37.41],
[.06,52.87,-37.41,.06,.055],[.06,53.11,-37.63,.035,.035],[.06,54.6,-37.88,.14,.125],[.06,52.87,-37.93,.085,.09],
[.06,53.72,-37.72,53.55,-37.76,53.55,-37.87,53.62,-37.84],[.06,53.44,-37.96,.04,.03],
[.1,55.25,-35.4,55.06,-35.24,54.79,-35.13,54.5,-35.13,54.27,-35.05,54.24,-34.72,54.17,-34.58,54.08,-34.63,54.04,-34.96,53.85,-35.1,53.65,-35.24,53.72,-35.35,53.52,-35.32,53.2,-35.46,53.2,-35.57,53.65,-35.65,53.72,-35.54,54.01,-35.68,54.21,-35.76,54.73,-35.79,54.76,-35.93,54.96,-35.9,55.12,-35.68],
[.14,55.12,-35.43,54.99,-35.27,54.73,-35.18,54.34,-35.17,54.08,-35.24,54,-35.4,54.08,-35.6,54.27,-35.71,54.73,-35.73,54.86,-35.87,54.99,-35.79,55.09,-35.65],
[.1,53.88,-35.77,.06,.07],[.1,53.22,-35.16,.1,.1],[.1,53,-35.67,.02,.05],
[.14,54.13,-34.93,.11,.17],[.18,54.13,-34.93,.05,.09],
[.14,53.52,-35.52,.18,.12],[.18,53.52,-35.52,.09,.07],
[.2,54.86,-35.8,.1,.11],
[.1,55.58,-35.39,.18,.21],[.14,55.58,-35.39,.14,.17],[.22,55.58,-35.39,.1,.12],[.3,55.58,-35.39,.07,.09],[.38,55.58,-35.39,.05,.06],[.44,55.58,-35.39,.03,.035],
[.14,53.82,-35.24,.15,.13],[.22,53.82,-35.24,.09,.08],[.3,53.82,-35.24,.04,.03],
[.26,54.55,-35.47,.5,.23],[.34,54.58,-35.47,.46,.21],[.42,54.58,-35.47,.44,.2],[.5,54.6,-35.47,.4,.18],[.58,54.62,-35.47,.3,.15],[.66,54.62,-35.47,.25,.13],[.78,54.62,-35.47,.2,.11],
[.3,54.21,-35.27,.05,.04],
[.06,51.64,-35.68,.23,.2],[.1,51.64,-35.68,.13,.18],[.18,51.64,-35.68,.09,.11],[.26,51.64,-35.68,.04,.05]
];
const densities = [density1, density2, density3, density4];
// see-through gaps in the base layer: row, ra, dec, rRa, rDec
const densityHoles = [[1,55.77,-35.23,.06,.05],[2,56.75,-34.78,.03,.025]];

const width = 1200, height = 1958, rowStep = 491;
const hessW = 277, mapW = 347, plotH = 340;
const colX = [59, 417, 844.3];

const svg = d3.select('#chart').append('svg').attr('width', width).attr('height', height);
const defs = svg.append('defs');

const xHess = d3.scaleLinear().domain([1.2, 3.4]).range([0, hessW]);
const yHess = d3.scaleLinear().domain([0.5, 1.4]).range([plotH, 0]);
const xRa = d3.scaleLinear().domain([58.04, 51.25]).range([0, mapW]);
const yDec = d3.scaleLinear().domain([-38.275, -32.665]).range([plotH, 0]);
const countColor = d3.scaleLog().domain(countStops).range(countColors).interpolate(d3.interpolateRgb);
const densityColor = d3.scaleQuantize().domain([0, 1.6]).range(densityColors);
const xCount = d3.scaleLog().domain([1, 100]).range([0, hessW]);
const xDensity = d3.scaleLinear().domain([0, 1.6]).range([0, mapW]);
const memberSide = d3.scaleLinear().domain([0, 46]).range([0, 15.3]);

const hessLine = d3.line().x(d => xHess(d[0])).y(d => yHess(d[1]));
const footLine = d3.line().x(d => xRa(d[0])).y(d => yDec(d[1])).curve(d3.curveLinearClosed);
const blobLine = d3.line().x(d => xRa(d[0])).y(d => yDec(d[1])).curve(d3.curveCatmullRomClosed.alpha(0.5));

const du = 2.2 / 49, dg = 0.9 / 60;
const hessCells = [];
hessRows.forEach((line, r) => {
  const row = line.replace(/ /g, '');
  for (let c = 0; c < row.length; c++) {
    const n = parseInt(row[c], 36);
    if (n > 0) hessCells.push({u: 1.2 + c * du, g: 1.4 - r * dg, n: n});
  }
});

function styleAxis(g, size) {
  g.selectAll('text').attr('font-size', size).attr('font-family', '"DejaVu Sans"').attr('fill', '#111');
  g.selectAll('line').attr('stroke', '#333');
  g.select('.domain').remove();
}

function frame(g, w, h) {
  g.append('rect').attr('width', w).attr('height', h)
    .attr('fill', 'none').attr('stroke', '#555').attr('stroke-width', 1.1);
}

function minusFmt(v) { return (v < 0 ? '\u2212' : '') + Math.abs(v); }

function drawHess(g, i) {
  defs.append('clipPath').attr('id', 'clipH' + i).append('rect').attr('width', hessW).attr('height', plotH);
  const body = g.append('g').attr('clip-path', `url(#clipH${i})`);
  body.selectAll('rect.cell').data(hessCells).enter().append('rect')
    .attr('class', 'cell')
    .attr('x', d => xHess(d.u))
    .attr('y', d => yHess(d.g))
    .attr('width', xHess(1.2 + du) - xHess(1.2) + 0.25)
    .attr('height', yHess(1.4 - dg) - yHess(1.4) + 0.25)
    .attr('fill', d => countColor(d.n));

  // shaded area follows the highlighted contour
  body.append('path').attr('d', hessLine(contours[i]) + 'Z')
    .attr('fill', '#3087a0').attr('fill-opacity', 0.42);
  contours.concat([contourE]).forEach((c, k) => {
    if (k === i) return;
    body.append('path').attr('d', hessLine(c) + 'Z').attr('fill', k === 4 ? '#000' : 'none')
      .attr('stroke', '#000').attr('stroke-width', k === 4 ? 1 : 2.7).attr('stroke-linejoin', 'round');
  });
  body.append('path').attr('d', hessLine(contours[i]) + 'Z').attr('fill', 'none')
    .attr('stroke', '#ff00ff').attr('stroke-width', 3.2).attr('stroke-linejoin', 'round');

  g.append('g').attr('transform', `translate(0,${plotH})`)
    .call(d3.axisBottom(xHess).tickValues(hessTicksX).tickSize(-3).tickPadding(4).tickFormat(d3.format('.1f')))
    .call(a => styleAxis(a, 14));
  g.append('g').call(d3.axisTop(xHess).tickValues(hessTicksX).tickSize(-3).tickFormat(''))
    .call(a => { styleAxis(a, 14); a.selectAll('text').remove(); });
  g.append('g').call(d3.axisLeft(yHess).tickValues(hessTicksY).tickSize(-3).tickPadding(6).tickFormat(d3.format('.1f')))
    .call(a => styleAxis(a, 14));
  g.append('g').attr('transform', `translate(${hessW},0)`)
    .call(d3.axisRight(yHess).tickValues(hessTicksY).tickSize(-3).tickFormat(''))
    .call(a => { styleAxis(a, 14); a.selectAll('text').remove(); });
  frame(g, hessW, plotH);

  g.append('text').attr('x', hessW / 2).attr('y', 370).attr('text-anchor', 'middle')
    .attr('font-size', 19).attr('dominant-baseline', 'middle').text('u \u2212 r');
  g.append('text').attr('transform', `translate(-40,${plotH / 2 - 2}) rotate(-90)`)
    .attr('text-anchor', 'middle').attr('dominant-baseline', 'middle').attr('font-size', 19).text('g \u2212 i');

  // colour bar, counts
  const bar = g.append('g').attr('transform', 'translate(0,412.7)');
  const barH = 13.7;
  bar.selectAll('rect').data(d3.range(0, 2, 2 / 277)).enter().append('rect')
    .attr('x', d => xCount(Math.pow(10, d)))
    .attr('width', 1.3).attr('height', barH)
    .attr('fill', d => countColor(Math.pow(10, d)));
  frame(bar, hessW, barH);
  [1, 10, 100].forEach((v, k) => {
    bar.append('line').attr('x1', xCount(v)).attr('x2', xCount(v)).attr('y1', barH).attr('y2', barH + 3).attr('stroke', '#333');
    const t = bar.append('text').attr('x', xCount(v)).attr('y', barH + 18.5).attr('text-anchor', 'middle').attr('font-size', 13.5);
    t.append('tspan').text('10');
    t.append('tspan').attr('dy', -5).attr('font-size', 9.5).text(k);
  });
  bar.append('text').attr('x', hessW / 2).attr('y', barH + 36.5).attr('text-anchor', 'middle').attr('font-size', 13.5).text('Counts');
}

function drawBlob(g, b) {
  const fill = densityColor(b[0]);
  // low bands get a same colour edge, the nested red bands a very faint lighter line
  const low = b[0] < .12, nested = !low && b[0] < .34;
  const edge = low ? fill : (nested ? '#ff9a8a' : fill);
  const edgeW = low ? 1.5 : .35;
  const edgeA = nested ? .35 : 1;
  if (b.length === 5) {
    g.append('ellipse').attr('cx', xRa(b[1])).attr('cy', yDec(b[2]))
      .attr('rx', Math.abs(xRa(b[1] + b[3]) - xRa(b[1]))).attr('ry', Math.abs(yDec(b[2] + b[4]) - yDec(b[2])))
      .attr('fill', fill).attr('stroke', edge).attr('stroke-width', edgeW).attr('stroke-opacity', edgeA);
  } else {
    const pts = d3.range(1, b.length, 2).map(k => [b[k], b[k + 1]]);
    g.append('path').attr('d', blobLine(pts)).attr('fill', fill)
      .attr('stroke', edge).attr('stroke-width', edgeW).attr('stroke-opacity', edgeA);
  }
}

function drawMap(g, i, col) {
  const id = 'clipM' + i + col;
  defs.append('clipPath').attr('id', id).append('rect').attr('width', mapW).attr('height', plotH);
  const body = g.append('g').attr('clip-path', `url(#${id})`);
  body.append('rect').attr('width', mapW).attr('height', plotH).attr('fill', densityColor(0.02));

  // low bands first so higher ones sit on top
  const c = coreCenters[i];
  const rings = coreRings.map(r => [r[0], c[0] + r[3], c[1], r[1], r[2]]);
  d3.sort(densities[i].concat(rings), b => b[0]).forEach(b => drawBlob(body, b));
  densityHoles.filter(h => h[0] === i).forEach(h => {
    body.append('ellipse').attr('cx', xRa(h[1])).attr('cy', yDec(h[2]))
      .attr('rx', Math.abs(xRa(h[1] + h[3]) - xRa(h[1]))).attr('ry', Math.abs(yDec(h[2] + h[4]) - yDec(h[2])))
      .attr('fill', densityColor(0.02));
  });

  if (col === 1) {
    raTicks.forEach(v => body.append('line').attr('x1', xRa(v)).attr('x2', xRa(v)).attr('y2', plotH)
      .attr('stroke', '#b0b0b0').attr('stroke-opacity', .5).attr('stroke-width', .8).attr('stroke-dasharray', '3,2'));
    decTicks.forEach(v => body.append('line').attr('y1', yDec(v)).attr('y2', yDec(v)).attr('x2', mapW)
      .attr('stroke', '#b0b0b0').attr('stroke-opacity', .5).attr('stroke-width', .8).attr('stroke-dasharray', '3,2'));
  }

  body.append('path').attr('d', footLine(footprint)).attr('fill', 'none')
    .attr('stroke', '#90ee90').attr('stroke-width', col === 1 ? 1.9 : 1.5);

  if (col === 1) {
    body.selectAll('circle').data(pointings).enter().append('circle')
      .attr('cx', d => xRa(d[0])).attr('cy', d => yDec(d[1])).attr('r', 3.2).attr('fill', '#90ee90');
    body.selectAll('rect.member').data(members).enter().append('rect').attr('class', 'member')
      .attr('x', d => xRa(d[0]) - memberSide(d[2]) / 2).attr('y', d => yDec(d[1]) - memberSide(d[2]) / 2)
      .attr('width', d => memberSide(d[2])).attr('height', d => memberSide(d[2]))
      .attr('fill', 'none').attr('stroke', '#f0e020').attr('stroke-width', 1.25);
    body.append('rect').attr('x', xRa(brightGalaxy[0]) - 8).attr('y', yDec(brightGalaxy[1]) - 8)
      .attr('width', 16).attr('height', 16).attr('fill', 'none').attr('stroke', '#ff00ff').attr('stroke-width', 1.5);
    body.selectAll('path.star').data(stars).enter().append('path').attr('class', 'star')
      .attr('d', d3.symbol().type(d3.symbolStar).size(125))
      .attr('transform', d => `translate(${xRa(d[0])},${yDec(d[1])})`)
      .attr('fill', '#ffa500').attr('stroke', '#ee1100').attr('stroke-width', .9);
  }

  g.append('g').attr('transform', `translate(0,${plotH})`)
    .call(d3.axisBottom(xRa).tickValues(raTicks).tickSize(3.5).tickPadding(3).tickFormat(d3.format('d')))
    .call(a => styleAxis(a, 13.5));
  g.append('g').call(d3.axisLeft(yDec).tickValues(decTicks).tickSize(3.5).tickPadding(3.5).tickFormat(minusFmt))
    .call(a => styleAxis(a, 13.5));
  frame(g, mapW, plotH);

  g.append('text').attr('x', mapW / 2).attr('y', 372).attr('text-anchor', 'middle').attr('dominant-baseline', 'middle')
    .attr('font-size', 19.4).text('Right Ascension (deg)');
  g.append('text').attr('transform', `translate(-52,${plotH / 2 - 2}) rotate(-90)`)
    .attr('text-anchor', 'middle').attr('dominant-baseline', 'middle').attr('font-size', 19.4).text('Declination (deg)');

  // colour bar, density bands
  const bar = g.append('g').attr('transform', 'translate(0,412.7)');
  const barH = 17.3;
  bar.selectAll('rect').data(densityColors).enter().append('rect')
    .attr('x', (d, k) => xDensity(k * 0.04)).attr('width', xDensity(0.04) + 0.3).attr('height', barH)
    .attr('fill', d => d);
  frame(bar, mapW, barH);
  densityTicks.forEach(v => {
    bar.append('line').attr('x1', xDensity(v)).attr('x2', xDensity(v)).attr('y1', barH).attr('y2', barH + 3).attr('stroke', '#333');
    bar.append('text').attr('x', xDensity(v)).attr('y', barH + 18).attr('text-anchor', 'middle').attr('font-size', 13.5).text(d3.format('.2f')(v));
  });
  bar.append('text').attr('x', mapW / 2).attr('y', barH + 35).attr('text-anchor', 'middle').attr('font-size', 13.5).text('Density');
}

d3.range(4).forEach(i => {
  const top = 9 + rowStep * i;
  drawHess(svg.append('g').attr('transform', `translate(${colX[0]},${top})`), i);
  drawMap(svg.append('g').attr('transform', `translate(${colX[1]},${top})`), i, 1);
  drawMap(svg.append('g').attr('transform', `translate(${colX[2]},${top})`), i, 2);
});
</script>
</body>
</html>
